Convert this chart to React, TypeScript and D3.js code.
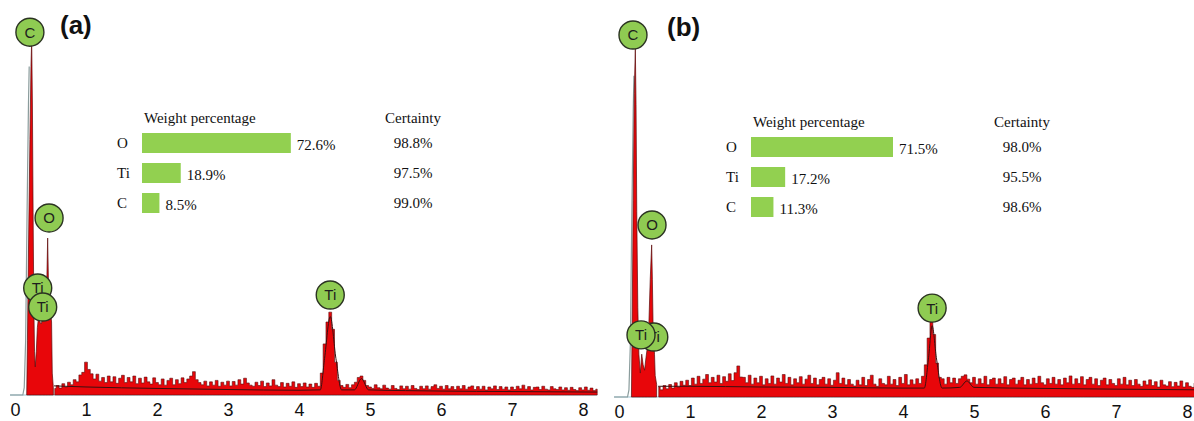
import { useEffect, useRef } from "react";
import * as d3 from "d3";

const W = 1194;
const H = 421;

// energy axis ticks (keV)
const ticks = [0, 1, 2, 3, 4, 5, 6, 7, 8];

// elements in the quantification inset
const elements = ["O", "Ti", "C"];

// ---- panel (a) ----
// low energy part, [keV, counts]
const lowA: [number, number][] = [
  [0.165, 0], [0.175, 150], [0.19, 400], [0.21, 700], [0.225, 900], [0.235, 973],
  [0.245, 800], [0.255, 500], [0.265, 250], [0.275, 120], [0.285, 77], [0.3, 120],
  [0.315, 185], [0.33, 210], [0.35, 200], [0.37, 195], [0.39, 210], [0.41, 220],
  [0.43, 235], [0.45, 330], [0.46, 430], [0.47, 320], [0.48, 245], [0.5, 230],
  [0.515, 200], [0.525, 60], [0.54, 20],
];
// counts from 0.56 keV on, every 0.04 keV
const noiseStart = 0.56;
const noiseStep = 0.04;
const countsA = [
  18, 26, 19, 31, 22, 35, 28, 42, 36, 55,
  62, 90, 70, 58, 44, 57, 38, 48, 34, 52,
  36, 50, 32, 46, 54, 34, 48, 36, 52, 31,
  46, 33, 49, 36, 30, 47, 34, 28, 44, 27,
  40, 46, 28, 42, 31, 47, 34, 44, 52, 64,
  42, 34, 28, 38, 25, 36, 27, 40, 24, 35,
  27, 38, 25, 37, 27, 42, 30, 46, 33, 27,
  24, 35, 26, 38, 23, 33, 25, 42, 27, 23,
  34, 22, 32, 24, 36, 21, 31, 23, 33, 22,
  30, 21, 32, 24, 60, 140, 200, 227, 180, 90,
  40, 26, 21, 29, 20, 28, 35, 48, 52, 40,
  26, 22, 18, 28, 20, 17, 27, 19, 16, 26,
  18, 15, 25, 17, 24, 16, 26, 18, 15, 24,
  17, 25, 16, 23, 28, 18, 24, 16, 26, 17,
  23, 15, 24, 17, 26, 16, 22, 25, 15, 23,
  16, 24, 14, 22, 17, 25, 15, 23, 16, 22,
  14, 22, 15, 24, 17, 27, 16, 23, 14, 21,
  22, 15, 24, 16, 14, 23, 17, 15, 22, 14,
  20, 13, 21, 15, 12, 20, 14, 22, 13, 19,
  12, 16,
];
// fitted background / peak line
const fitA: [number, number][] = [
  [0.55, 25], [1, 22], [2, 18], [3, 15], [4, 13], [4.3, 14], [4.36, 100], [4.44, 215],
  [4.52, 100], [4.6, 14], [4.78, 14], [4.88, 45], [4.98, 14], [5.5, 12], [6.5, 10], [8.2, 8],
];
// grey leading edge left of the C peak
const leadA: [number, number][] = [
  [-0.07, 0], [0.11, 0], [0.13, 20], [0.15, 150], [0.17, 500], [0.19, 800], [0.2, 900],
];
// peak labels: element, keV, counts level of the circle centre
const markersA: [string, number, number][] = [
  ["C", 0.21, 994], ["O", 0.48, 485], ["Ti", 0.32, 293], ["Ti", 0.39, 241], ["Ti", 4.44, 274],
];
const weightA = [72.6, 18.9, 8.5];
const certaintyA = [98.8, 97.5, 99.0];

// ---- panel (b) ----
const lowB: [number, number][] = [
  [0.175, 0], [0.185, 200], [0.2, 550], [0.215, 850], [0.23, 977], [0.24, 820],
  [0.25, 520], [0.265, 250], [0.28, 120], [0.3, 67], [0.32, 120], [0.34, 90],
  [0.36, 75], [0.38, 110], [0.4, 140], [0.42, 200], [0.44, 330], [0.46, 426],
  [0.47, 330], [0.48, 200], [0.5, 120], [0.51, 60], [0.53, 35],
];
const countsB = [
  28, 20, 32, 23, 35, 25, 40, 28, 44, 33,
  47, 32, 53, 36, 58, 38, 50, 63, 40, 55,
  42, 61, 38, 57, 44, 65, 46, 68, 87, 56,
  55, 40, 61, 36, 53, 40, 58, 34, 51, 38,
  59, 36, 53, 42, 63, 38, 55, 34, 51, 40,
  57, 36, 50, 61, 38, 53, 34, 49, 55, 36,
  51, 33, 47, 68, 38, 53, 34, 49, 36, 31,
  47, 34, 55, 32, 49, 61, 36, 30, 51, 38,
  34, 58, 36, 49, 32, 55, 38, 63, 34, 48,
  36, 51, 38, 58, 90, 165, 210, 175, 95, 55,
  51, 36, 55, 40, 53, 38, 51, 58, 62, 50,
  40, 55, 36, 51, 38, 58, 34, 49, 53, 36,
  51, 38, 57, 34, 49, 53, 36, 47, 55, 34,
  49, 36, 53, 38, 58, 40, 34, 51, 38, 55,
  36, 49, 34, 53, 40, 59, 36, 51, 38, 57,
  34, 49, 55, 36, 51, 32, 47, 53, 34, 49,
  38, 32, 51, 36, 55, 34, 47, 32, 49, 36,
  30, 45, 34, 48, 32, 43, 28, 47, 34, 31,
  43, 29, 41, 31, 45, 28, 40, 30, 27, 39,
  28, 34,
];
const fitB: [number, number][] = [
  [0.55, 30], [1, 30], [2, 28], [3, 27], [4, 25], [4.3, 25], [4.36, 110], [4.41, 200],
  [4.47, 110], [4.55, 25], [4.8, 27], [4.9, 45], [5.0, 27], [6, 24], [7, 22], [8.2, 20],
];
const leadB: [number, number][] = [
  [-0.07, 0], [0.12, 0], [0.14, 20], [0.16, 150], [0.18, 500], [0.2, 800], [0.21, 900],
];
const markersB: [string, number, number][] = [
  ["C", 0.197, 1014], ["O", 0.465, 482], ["Ti", 0.49, 168], ["Ti", 0.31, 174], ["Ti", 4.41, 249],
];
const weightB = [71.5, 17.2, 11.3];
const certaintyB = [98.0, 95.5, 98.6];

type Panel = {
  tag: string;
  low: [number, number][];
  counts: number[];
  fit: [number, number][];
  lead: [number, number][];
  markers: [string, number, number][];
  weight: number[];
  certainty: number[];
  left: number; right: number; base: number; top: number;
  tagX: number; tagY: number;
  insetX: number; insetY: number; inset100: number;
};

const panels: Panel[] = [
  {
    tag: "(a)", low: lowA, counts: countsA, fit: fitA, lead: leadA, markers: markersA,
    weight: weightA, certainty: certaintyA,
    left: 15, right: 583, base: 395, top: 30, tagX: 60, tagY: 34,
    insetX: 142, insetY: 128, inset100: 205,
  },
  {
    tag: "(b)", low: lowB, counts: countsB, fit: fitB, lead: leadB, markers: markersB,
    weight: weightB, certainty: certaintyB,
    left: 619, right: 1187, base: 397, top: 40, tagX: 667, tagY: 36,
    insetX: 751, insetY: 132, inset100: 198.6,
  },
];

function drawPanel(svg: d3.Selection<SVGSVGElement, unknown, null, undefined>, p: Panel) {
  const x = d3.scaleLinear([0, 8], [p.left, p.right]);
  const y = d3.scaleLinear([0, 1000], [p.base, p.top]);
  const g = svg.append("g");

  const noise: [number, number][] = p.counts.map(
    (c, i) => [+(noiseStart + i * noiseStep).toFixed(2), c] as [number, number]);
  const line = d3.line<[number, number]>().x(d => x(d[0])).y(d => y(d[1]));
  const area = d3.area<[number, number]>().x(d => x(d[0])).y0(y(0)).y1(d => y(d[1]));

  // baseline
  g.append("line")
    .attr("x1", x(-0.07)).attr("x2", x(8.2))
    .attr("y1", y(0)).attr("y2", y(0))
    .attr("stroke", "#9cc4d4").attr("stroke-width", 1.2);

  // grey leading edge
  g.append("path").datum(p.lead)
    .attr("d", line).attr("fill", "none")
    .attr("stroke", "#8a9c9c").attr("stroke-width", 1.2);

  // spectrum: peaks region, then the counted channels as a histogram
  g.append("path").datum(p.low)
    .attr("d", area)
    .attr("fill", "#e8060a")
    .attr("stroke", "#5a0b0b").attr("stroke-width", 0.7).attr("stroke-linejoin", "round");
  g.append("path").datum(noise)
    .attr("d", area.curve(d3.curveStep))
    .attr("fill", "#e8060a")
    .attr("stroke", "#5a0b0b").attr("stroke-width", 0.6);

  // fitted line
  g.append("path").datum(p.fit)
    .attr("d", line.curve(d3.curveMonotoneX)).attr("fill", "none")
    .attr("stroke", "#3a1010").attr("stroke-width", 1);

  // x axis labels
  g.append("g")
    .attr("transform", `translate(0,${p.base})`)
    .call(d3.axisBottom(x).tickValues(ticks).tickSize(0).tickPadding(8).tickFormat(d3.format("d")))
    .call(a => a.select(".domain").remove())
    .call(a => a.selectAll("text")
      .attr("font-family", "'Liberation Sans', Arial, sans-serif")
      .attr("font-size", 18).attr("fill", "#111"));

  // peak labels
  const mk = g.selectAll("g.mk").data(p.markers).join("g")
    .attr("transform", d => `translate(${x(d[1])},${y(d[2])})`);
  mk.append("circle").attr("r", 14)
    .attr("fill", "#8fcb52").attr("stroke", "#2b3322").attr("stroke-width", 1.4);
  mk.append("text").text(d => d[0])
    .attr("text-anchor", "middle").attr("dy", "0.36em")
    .attr("font-family", "'Liberation Sans', Arial, sans-serif")
    .attr("font-size", 15).attr("fill", "#1e1e1e");

  // panel tag
  g.append("text").text(p.tag)
    .attr("x", p.tagX).attr("y", p.tagY)
    .attr("font-family", "'Liberation Sans', Arial, sans-serif")
    .attr("font-weight", "bold").attr("font-size", 26).attr("fill", "#111");

  // quantification inset
  const bx = d3.scaleLinear([0, 100], [p.insetX, p.insetX + p.inset100]);
  const by = d3.scaleBand(elements, [p.insetY, p.insetY + 90]).paddingInner(1 / 3).paddingOuter(1 / 6);
  const serif = "'Liberation Serif', 'Times New Roman', serif";
  const certX = p.insetX + 271;
  const inset = g.append("g").attr("font-family", serif).attr("font-size", 15).attr("fill", "#111");

  inset.append("text").text("Weight percentage")
    .attr("x", p.insetX + 2).attr("y", p.insetY - 5);
  inset.append("text").text("Certainty")
    .attr("x", certX).attr("y", p.insetY - 5).attr("text-anchor", "middle");

  const rows = inset.selectAll("g.row").data(elements).join("g")
    .attr("transform", d => `translate(0,${by(d)})`);
  rows.append("text").text(d => d)
    .attr("x", p.insetX - 25).attr("y", by.bandwidth() / 2).attr("dy", "0.35em");
  rows.append("rect")
    .attr("x", bx(0)).attr("y", 0)
    .attr("width", (_, i) => bx(p.weight[i]) - bx(0)).attr("height", by.bandwidth())
    .attr("fill", "#92d050");
  rows.append("text").text((_, i) => `${p.weight[i].toFixed(1)}%`)
    .attr("x", (_, i) => bx(p.weight[i]) + 6).attr("y", by.bandwidth() / 2 + 2).attr("dy", "0.35em");
  rows.append("text").text((_, i) => `${p.certainty[i].toFixed(1)}%`)
    .attr("x", certX).attr("y", by.bandwidth() / 2).attr("dy", "0.35em").attr("text-anchor", "middle");
}

export default function App() {
  const svgRef = useRef<SVGSVGElement>(null);
  useEffect(() => {
    if (!svgRef.current) return;
    const svg = d3.select(svgRef.current);
    panels.forEach(p => drawPanel(svg, p));
    return () => {
      svg.selectAll("*").remove();
    };
  }, []);

  return (
    <svg
      ref={svgRef}
      width={W}
      height={H}
      viewBox={`0 0 ${W} ${H}`}
      style={{ position: "absolute", left: 0, top: 0, background: "#fff", display: "block" }}
    />
  );
}
